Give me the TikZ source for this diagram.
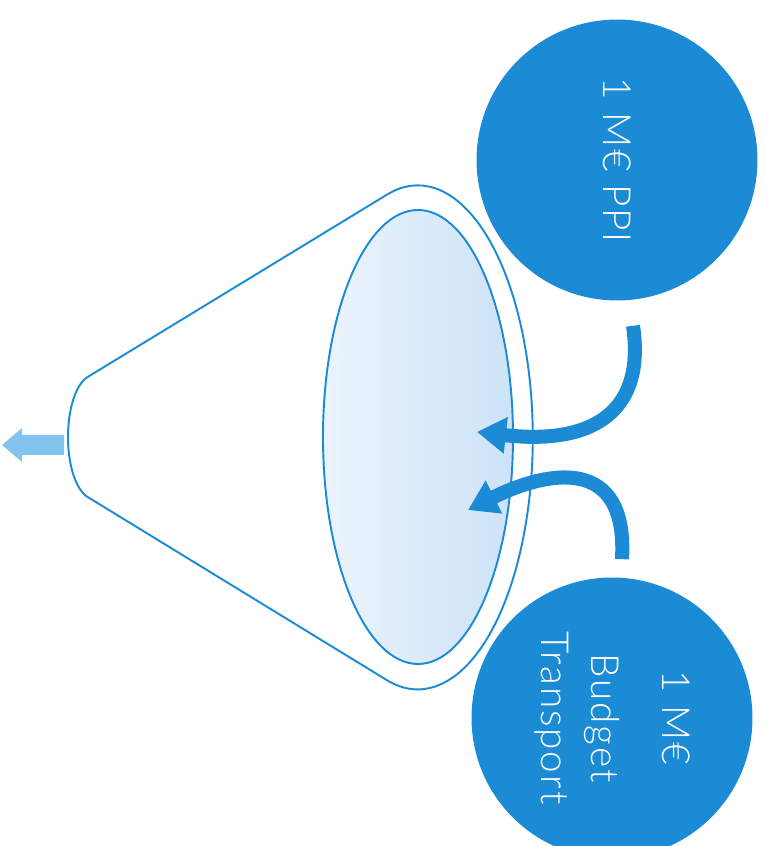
\documentclass[tikz,border=0pt]{standalone}
\usepackage{fontspec}
\IfFontExistsTF{Lato Light}{\setmainfont{Lato Light}[LetterSpace=5]}{\setmainfont{Lato}[LetterSpace=5]}
\usetikzlibrary{arrows.meta}
\definecolor{ppiblue}{RGB}{28,139,214}
\definecolor{paleblue}{RGB}{236,244,252}
\definecolor{midblue}{RGB}{204,227,247}
\definecolor{outblue}{RGB}{130,196,238}

\begin{document}
\begin{tikzpicture}[x=0.02cm,y=0.02cm,
coin/.style={circle,fill=ppiblue,minimum size=5.62cm,inner sep=0pt,text=white,font=\fontsize{22}{28}\selectfont},
rim/.style={draw=ppiblue,line width=1.1pt},
flow/.style={ppiblue,line width=8pt,-{Triangle[length=0.58cm,width=0.7cm]}}]
\useasboundingbox (0,0) rectangle (767,846);
\clip (0,0) rectangle (767,846);
\coordinate (mouth) at (418,409);
\coordinate (tip) at (64,401);
\draw[rim,fill=white] (388,652) arc[start angle=105,end angle=-105,x radius=115,y radius=252] -- (86,350) .. controls (62,370) and (62,448) .. (86,468) -- cycle;
\shade[left color=paleblue,right color=midblue] (mouth) ellipse[x radius=95,y radius=227];
\draw[rim] (mouth) ellipse[x radius=95,y radius=227];
\fill[outblue] (tip) -- ++(0,10) -- ++(-42,0) -- ++(0,7) -- ++(-20,-17) -- ++(20,-17) -- ++(0,7) -- ++(42,0) -- cycle;
\node[coin] (ppi) at (617,686) {\rotatebox{-90}{1 M€ PPI}};
\node[coin] (budget) at (612,128) {\rotatebox{-90}{\begin{tabular}{@{}c@{}}1 M€\\[0.44cm]Budget\\Transport\end{tabular}}};
\coordinate (inA) at (477,414);
\coordinate (inB) at (468,336);
\draw[flow] ([xshift=0.32cm,yshift=-0.5cm]ppi.south) .. controls +(12,-80) and +(123,-14) .. (inA);
\draw[flow] ([xshift=0.2cm,yshift=0.36cm]budget.north) .. controls +(6,104) and +(80,40) .. (inB);
\end{tikzpicture}
\end{document}
